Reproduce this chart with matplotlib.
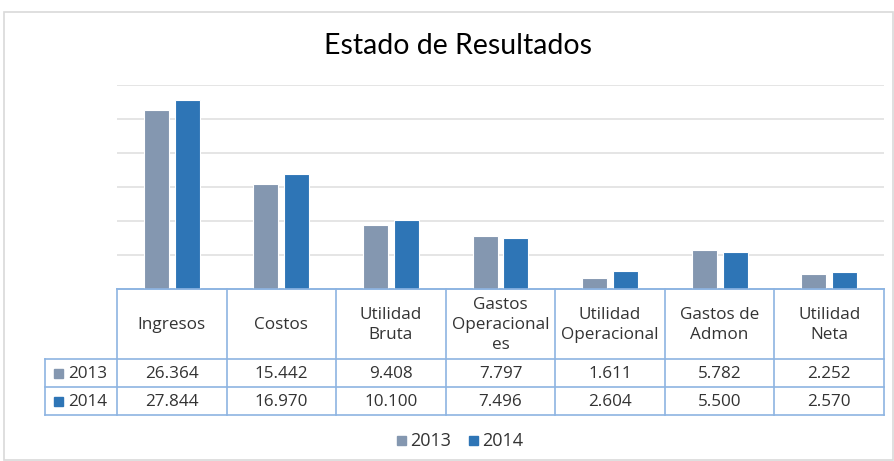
import matplotlib.pyplot as plt
import numpy as np
from matplotlib.patches import Rectangle

categories = ["Ingresos", "Costos", "Utilidad\nBruta", "Gastos\nOperacional\nes",
              "Utilidad\nOperacional", "Gastos de\nAdmon", "Utilidad\nNeta"]
years = ["2013", "2014"]
values_2013 = [26364, 15442, 9408, 7797, 1611, 5782, 2252]
values_2014 = [27844, 16970, 10100, 7496, 2604, 5500, 2570]

c2013 = "#8497B0"
c2014 = "#2E75B6"
line_c = "#8DB4E2"
text_c = "#333333"

W, H = 894, 461
fig = plt.figure(figsize=(W / 100, H / 100), dpi=100)
fig.patch.set_facecolor("white")


def fx(px):
    return px / W


def fy(py):
    return 1 - py / H


# outer chart frame
fig.patches.append(Rectangle((fx(4), fy(460)), fx(889), (460 - 12) / H, transform=fig.transFigure,
                             fill=False, edgecolor="#D9D9D9", linewidth=1.2))

fig.text(fx(458), fy(46), "Estado de Resultados", ha="center", va="center",
         fontsize=20.5, family="Lato", color="#000000")

# bars
left, right, top, base = 117, 884, 85, 289
ax = fig.add_axes([fx(left), fy(base), (right - left) / W, (base - top) / H])
x = np.arange(len(categories))
bw = 0.228
off = 0.141
ax.bar(x - off, values_2013, bw, color=c2013, edgecolor="white", linewidth=0.8, zorder=3)
ax.bar(x + off, values_2014, bw, color=c2014, edgecolor="white", linewidth=0.8, zorder=3)
ax.set_xlim(-0.5, len(categories) - 0.5)
ax.set_ylim(0, 30000)
ax.set_yticks(np.arange(5000, 30001, 5000))
ax.yaxis.grid(True, color="#E0E0E0", linewidth=1.2)
ax.tick_params(left=False, bottom=False, labelleft=False, labelbottom=False)
for s in ["top", "right", "left"]:
    ax.spines[s].set_visible(False)
ax.spines["bottom"].set_color(line_c)
ax.spines["bottom"].set_linewidth(1.2)

# data table
tab = fig.add_axes([0, 0, 1, 1])
tab.set_xlim(0, W)
tab.set_ylim(H, 0)
tab.axis("off")
col_w = (right - left) / len(categories)
h_top, r1, r2, r3 = 289, 359, 387, 415
lab_left = 45
lw = 1.2
# horizontal lines
tab.plot([left, right], [h_top, h_top], color=line_c, lw=lw)
tab.plot([lab_left, right], [r1, r1], color=line_c, lw=lw)
tab.plot([lab_left, right], [r2, r2], color=line_c, lw=lw)
tab.plot([lab_left, right], [r3, r3], color=line_c, lw=lw)
# vertical lines
tab.plot([lab_left, lab_left], [r1, r3], color=line_c, lw=lw)
for i in range(len(categories) + 1):
    tab.plot([left + i * col_w] * 2, [h_top, r3], color=line_c, lw=lw)

fs = 12.3
fam = "Open Sans"
for i, cat in enumerate(categories):
    cx = left + (i + 0.5) * col_w
    tab.text(cx, (h_top + r1) / 2 + 1, cat, ha="center", va="center", fontsize=fs,
             family=fam, color=text_c, linespacing=1.35)
    for vals, ya, yb in [(values_2013, r1, r2), (values_2014, r2, r3)]:
        s = "{:,}".format(vals[i]).replace(",", ".")
        tab.text(cx, (ya + yb) / 2 + 1, s, ha="center", va="center", fontsize=fs,
                 family=fam, color=text_c)

for yr, col, ya, yb in [(years[0], c2013, r1, r2), (years[1], c2014, r2, r3)]:
    ym = (ya + yb) / 2
    tab.add_patch(Rectangle((54, ym - 4.5), 9, 9, color=col))
    tab.text(68, ym + 1, yr, ha="left", va="center", fontsize=fs, family=fam, color=text_c)

# legend
for yr, col, lx in [(years[0], c2013, 397), (years[1], c2014, 469)]:
    tab.add_patch(Rectangle((lx, 436), 9, 9, color=col))
    tab.text(lx + 13, 441, yr, ha="left", va="center", fontsize=13, family=fam, color=text_c)

fig.savefig("out.png", dpi=100)
